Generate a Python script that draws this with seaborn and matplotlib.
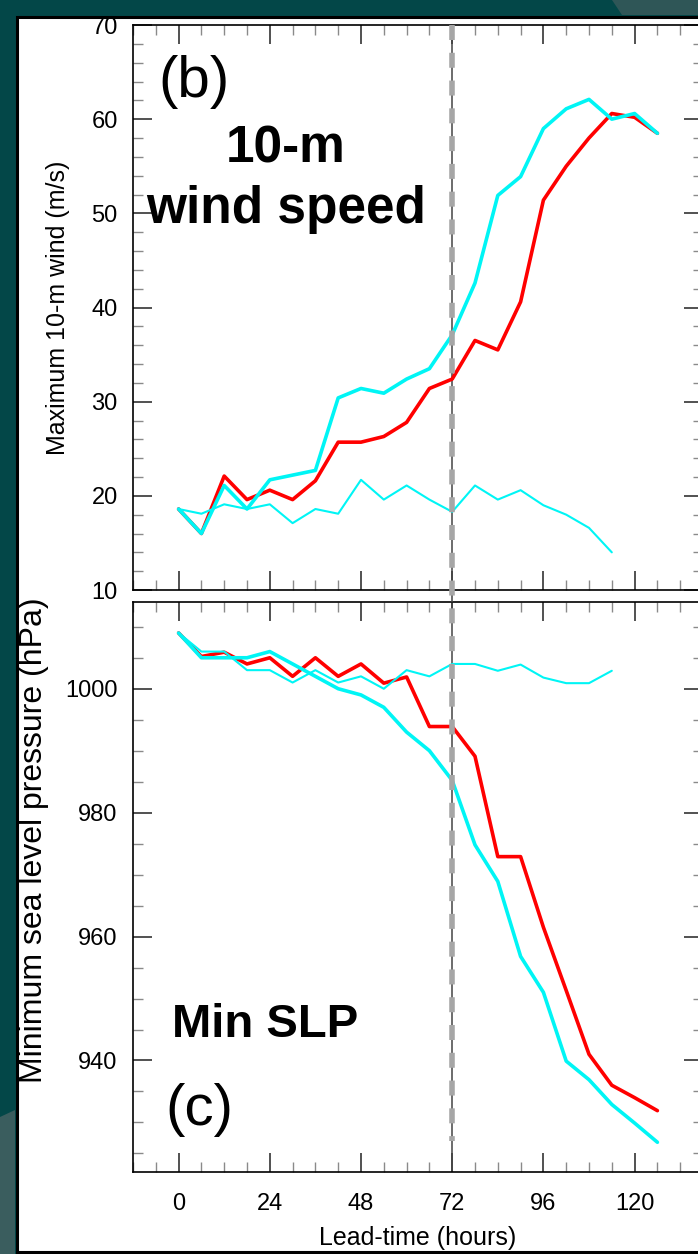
import numpy as np
import pandas as pd
import matplotlib
matplotlib.use("Agg")
import matplotlib.pyplot as plt
import seaborn as sns
from matplotlib.ticker import MultipleLocator, NullFormatter
from matplotlib.patches import Rectangle, Polygon
from matplotlib.lines import Line2D
from matplotlib import transforms

# ---- data -------------------------------------------------------------
lead_hours = list(range(0, 127, 6))              # 0 .. 126 h
lead_hours_short = list(range(0, 115, 6))        # 0 .. 114 h
analysis_hour = 72

wind_red = [18.6, 16.0, 22.1, 19.6, 20.6, 19.6, 21.6, 25.7, 25.7, 26.3, 27.8,
            31.4, 32.4, 36.5, 35.5, 40.6, 51.4, 55.0, 58.0, 60.6, 60.2, 58.5]
wind_cyan = [18.6, 16.0, 21.1, 18.6, 21.7, 22.2, 22.7, 30.4, 31.4, 30.9, 32.4,
             33.5, 37.1, 42.6, 51.9, 53.9, 59.0, 61.1, 62.1, 60.0, 60.6, 58.5]
wind_cyan_thin = [18.6, 18.1, 19.1, 18.6, 19.1, 17.1, 18.6, 18.1, 21.7, 19.6,
                  21.1, 19.6, 18.3, 21.1, 19.6, 20.6, 19.0, 18.0, 16.6, 14.0]

slp_red = [1009.0, 1005.2, 1005.9, 1004.0, 1005.0, 1002.0, 1005.0, 1002.0,
           1004.0, 1000.9, 1001.9, 993.9, 993.9, 989.1, 972.9, 972.9, 961.5,
           951.3, 941.0, 936.0, 934.0, 931.9]
slp_cyan = [1009.0, 1005.0, 1005.0, 1005.0, 1006.0, 1004.0, 1002.0, 1000.0,
            999.0, 997.0, 993.0, 990.0, 985.2, 974.8, 968.9, 956.8, 951.0,
            939.9, 936.9, 932.9, 929.9, 926.8]
slp_cyan_thin = [1009.0, 1006.0, 1006.0, 1003.0, 1003.0, 1001.0, 1003.0,
                 1001.0, 1002.0, 1000.0, 1003.0, 1002.0, 1004.0, 1004.0,
                 1002.9, 1003.9, 1001.8, 1000.9, 1000.9, 1002.9]

wind_ticks = [10, 20, 30, 40, 50, 60, 70]
slp_ticks = [940, 960, 980, 1000]
hour_ticks = [0, 24, 48, 72, 96, 120]

# ---- style --------------------------------------------------------------
sns.set_theme(style="white")
plt.rcParams["font.family"] = ["Liberation Sans", "DejaVu Sans"]
plt.rcParams.update({"text.color": "black", "axes.labelcolor": "black",
                     "xtick.color": "black", "ytick.color": "black"})

W, H = 698, 1254
fig = plt.figure(figsize=(W / 100, H / 100), dpi=100, facecolor="#034748")

# slide background: lighter teal shapes and the white framed panel
fig.patches.append(Polygon([(0, 1 - 1117 / H), (15 / W, 1 - 1110 / H), (15 / W, 0), (0, 0)],
                           closed=True, transform=fig.transFigure,
                           facecolor="#3a5d5e", edgecolor="none", zorder=-3))
fig.patches.append(Polygon([(612 / W, 1), (1, 1), (1, 1 - 15 / H), (622 / W, 1 - 15 / H)],
                           closed=True, transform=fig.transFigure,
                           facecolor="#2f5657", edgecolor="none", zorder=-3))
fig.patches.append(Rectangle((16.5 / W, 1 - 1252 / H), 700 / W, (1252 - 16.5) / H,
                             transform=fig.transFigure, facecolor="white",
                             edgecolor="black", linewidth=2.2, zorder=-2))

ax_w = fig.add_axes([133 / W, 1 - 590 / H, 570 / W, 565 / H])
ax_p = fig.add_axes([133 / W, 1 - 1172 / H, 570 / W, 570 / H])

RED = "#ff0000"
CYAN = "#00f5f5"


def draw_series(ax, x, y, color, lw, z):
    df = pd.DataFrame({"hour": x, "value": y})
    sns.lineplot(data=df, x="hour", y="value", ax=ax, color=color,
                 linewidth=lw, estimator=None, zorder=z)


draw_series(ax_w, lead_hours, wind_red, RED, 2.6, 3)
draw_series(ax_w, lead_hours, wind_cyan, CYAN, 2.6, 4)
draw_series(ax_w, lead_hours_short, wind_cyan_thin, CYAN, 1.5, 4)

draw_series(ax_p, lead_hours, slp_red, RED, 2.6, 3)
draw_series(ax_p, lead_hours, slp_cyan, CYAN, 2.6, 4)
draw_series(ax_p, lead_hours_short, slp_cyan_thin, CYAN, 1.5, 4)

for ax in (ax_w, ax_p):
    ax.set_facecolor("none")
    ax.set_xlim(-12, 138)
    ax.xaxis.set_major_locator(MultipleLocator(24))
    ax.xaxis.set_minor_locator(MultipleLocator(6))
    ax.tick_params(which="both", direction="in", top=True, bottom=True,
                   left=True, right=True)
    ax.tick_params(which="major", length=14, width=1.1, color="#222222",
                   labelsize=17, labelcolor="black")
    ax.tick_params(which="minor", length=7, width=1.0, color="#8a8a8a")
    ax.tick_params(axis="y", which="major", pad=11)
    ax.tick_params(axis="x", which="major", pad=15)
    for s in ax.spines.values():
        s.set_visible(True)
        s.set_color("black")
        s.set_linewidth(1.2)
    ax.axvline(analysis_hour, color="#444444", linewidth=1.1, zorder=2)
    ax.grid(False)

ax_w.set_ylim(10, 70)
ax_w.set_yticks(wind_ticks)
ax_w.yaxis.set_minor_locator(MultipleLocator(2))
ax_w.xaxis.set_major_formatter(NullFormatter())
ax_w.set_xlabel("")
ax_w.set_ylabel("Maximum 10-m wind (m/s)", fontsize=18, color="black")
ax_w.yaxis.set_label_coords(-0.111, 0.5)

ax_p.set_ylim(922, 1014)
ax_p.set_yticks(slp_ticks)
ax_p.yaxis.set_minor_locator(MultipleLocator(5))
ax_p.set_xticks(hour_ticks)
ax_p.set_xlabel("Lead-time (hours)", fontsize=18, color="black")
ax_p.xaxis.set_label_coords(0.5, -0.095)
ax_p.set_ylabel("Minimum sea level pressure (hPa)", fontsize=23, color="black")
ax_p.yaxis.set_label_coords(-0.147, 0.582)

# dashed marker across both panels at the analysis time
trans = transforms.blended_transform_factory(ax_w.transData, fig.transFigure)
fig.lines.append(Line2D([analysis_hour, analysis_hour], [1 - 25 / H, 1 - 1141 / H],
                        transform=trans, color="#a6a6a6", linewidth=4.0,
                        dashes=(2.7, 2.3), zorder=5))
fig.lines.append(Line2D([analysis_hour, analysis_hour], [1 - 590 / H, 1 - 602 / H],
                        transform=trans, color="#444444", linewidth=1.1, zorder=4))

# panel annotations
ax_w.text(0.044, 0.900, "(b)", transform=ax_w.transAxes, fontsize=42,
          ha="left", va="center", color="black")
ax_w.text(0.268, 0.7575, "10-m", transform=ax_w.transAxes, fontsize=37,
          fontweight="bold", ha="center", va="baseline", color="black")
ax_w.text(0.268, 0.6496, "wind speed", transform=ax_w.transAxes, fontsize=37,
          fontweight="bold", ha="center", va="baseline", color="black")
ax_p.text(0.2325, 0.2368, "Min SLP", transform=ax_p.transAxes, fontsize=34,
          fontweight="bold", ha="center", va="baseline", color="black")
ax_p.text(0.056, 0.1088, "(c)", transform=ax_p.transAxes, fontsize=42,
          ha="left", va="center", color="black")

fig.savefig("out.png", dpi=100, facecolor=fig.get_facecolor())
